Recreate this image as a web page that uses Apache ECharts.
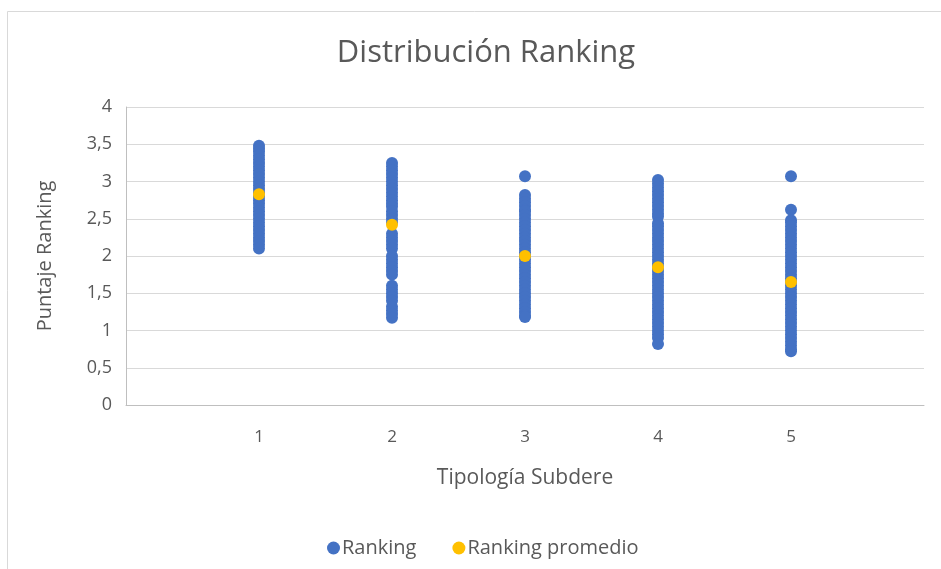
<!DOCTYPE html>
<html><head><meta charset="utf-8">
<script src="https://cdn.jsdelivr.net/npm/echarts@6/dist/echarts.min.js"></script>
<style>html,body{margin:0;padding:0;background:#fff}#c{width:941px;height:569px}</style>
</head><body><div id="c"></div>
<script>
const titleText = 'Distribución Ranking';
const xAxisName = 'Tipología Subdere';
const yAxisName = 'Puntaje Ranking';
const categories = [1, 2, 3, 4, 5];
const yTicks = ['0','0,5','1','1,5','2','2,5','3','3,5','4'];
const rank1 = [3.48,3.44,3.4,3.35,3.3,3.25,3.2,3.15,3.1,3.05,3.0,2.95,2.9,2.85,2.8,2.75,2.7,2.65,2.6,2.55,2.5,2.45,2.4,2.35,2.3,2.25,2.2,2.15,2.1];
const rank2 = [3.25,3.2,3.15,3.1,3.05,3.0,2.95,2.9,2.85,2.8,2.75,2.7,2.66,2.6,2.55,2.5,2.45,2.3,2.25,2.2,2.15,2.1,2.0,1.95,1.9,1.85,1.8,1.75,1.6,1.55,1.5,1.45,1.4,1.32,1.27,1.22,1.17];
const rank3 = [3.07,2.82,2.77,2.72,2.67,2.62,2.6,2.55,2.5,2.45,2.4,2.35,2.3,2.25,2.2,2.15,2.1,2.05,2.0,1.95,1.9,1.85,1.8,1.75,1.7,1.65,1.6,1.55,1.5,1.45,1.4,1.35,1.3,1.25,1.2,1.18];
const rank4 = [3.02,2.97,2.92,2.87,2.82,2.77,2.72,2.67,2.62,2.57,2.53,2.44,2.4,2.35,2.3,2.25,2.2,2.15,2.1,2.05,2.0,1.95,1.9,1.85,1.8,1.75,1.7,1.65,1.6,1.55,1.5,1.45,1.4,1.35,1.3,1.25,1.2,1.15,1.1,1.05,1.0,0.95,0.9,0.82];
const rank5 = [3.07,2.62,2.48,2.45,2.4,2.35,2.3,2.25,2.2,2.15,2.1,2.05,2.0,1.95,1.9,1.85,1.8,1.75,1.7,1.65,1.6,1.55,1.5,1.45,1.4,1.35,1.3,1.25,1.2,1.15,1.1,1.05,1.0,0.95,0.9,0.85,0.8,0.75,0.72];
const rankings = [rank1, rank2, rank3, rank4, rank5];
const averages = [2.83, 2.42, 2.0, 1.85, 1.65];

const rankData = [];
rankings.forEach((arr, i) => arr.forEach(v => rankData.push([categories[i], v])));
const avgData = averages.map((v, i) => [categories[i], v]);

const font = "'Open Sans', 'Noto Sans', sans-serif";
const chart = echarts.init(document.getElementById('c'), null, {renderer: 'canvas'});
chart.setOption({
  animation: false,
  backgroundColor: '#fff',
  graphic: [{
    type: 'rect', shape: {x: 7.5, y: 11.5, width: 950, height: 600},
    style: {fill: 'none', stroke: '#d9d9d9', lineWidth: 1}, silent: true, z: -1
  }],
  title: {
    text: titleText, left: 481, top: 33, textAlign: 'center',
    textStyle: {fontFamily: font, fontSize: 31, fontWeight: 'normal', color: '#595959'}
  },
  legend: {
    left: 322, top: 533, itemGap: 36, itemWidth: 13, itemHeight: 13,
    icon: 'circle',
    textStyle: {fontFamily: font, fontSize: 20, color: '#595959', padding: [0, 0, 0, -3]},
    data: ['Ranking', 'Ranking promedio']
  },
  grid: {left: 126, right: 17, top: 107, bottom: 164, containLabel: false},
  xAxis: {
    type: 'value', min: 0, max: 6, interval: 1,
    name: xAxisName, nameLocation: 'middle', nameGap: 63,
    nameTextStyle: {fontFamily: font, fontSize: 21, color: '#595959'},
    axisLine: {show: true, lineStyle: {color: '#bfbfbf'}},
    axisTick: {show: false},
    splitLine: {show: false},
    axisLabel: {
      fontFamily: font, fontSize: 17, color: '#595959', margin: 24,
      formatter: v => (v >= 1 && v <= 5) ? String(v) : ''
    }
  },
  yAxis: {
    type: 'value', min: 0, max: 4, interval: 0.5,
    name: yAxisName, nameLocation: 'middle', nameGap: 71, nameRotate: 90,
    nameTextStyle: {fontFamily: font, fontSize: 20, color: '#595959'},
    axisLine: {show: true, lineStyle: {color: '#bfbfbf'}},
    axisTick: {show: false},
    splitLine: {show: true, lineStyle: {color: '#d9d9d9'}},
    axisLabel: {
      fontFamily: font, fontSize: 18, color: '#595959', margin: 14,
      formatter: v => yTicks[Math.round(v * 2)]
    }
  },
  series: [
    {name: 'Ranking', type: 'scatter', data: rankData, symbolSize: 12,
     itemStyle: {color: '#4472C4', opacity: 1}},
    {name: 'Ranking promedio', type: 'scatter', data: avgData, symbolSize: 12,
     itemStyle: {color: '#FFC000', opacity: 1}, z: 3}
  ]
});
</script></body></html>
